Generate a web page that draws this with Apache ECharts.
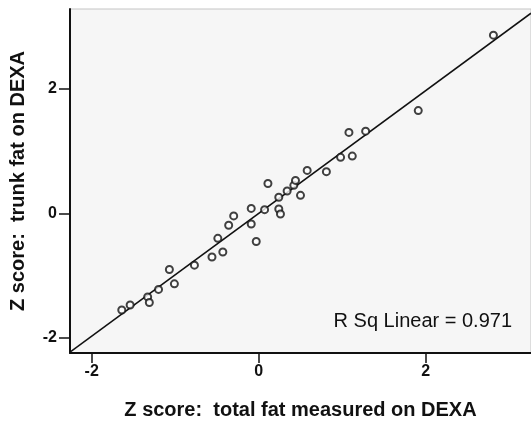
<!DOCTYPE html>
<html>
<head>
<meta charset="utf-8">
<script src="https://cdn.jsdelivr.net/npm/echarts@6/dist/echarts.min.js"></script>
<style>
  html, body { margin: 0; padding: 0; background: #fff; }
  #chart { width: 531px; height: 425px; }
</style>
</head>
<body>
<div id="chart"></div>
<script>
// Z score of total fat (x) against Z score of trunk fat (y), both measured on DEXA
const totalFatZ = [
  -1.64, -1.54, -1.33, -1.31, -1.20, -1.07, -1.01, -0.77, -0.56, -0.43, -0.49,
  -0.36, -0.30, -0.09, -0.09, -0.03, 0.07, 0.11, 0.24, 0.24, 0.26, 0.34,
  0.42, 0.44, 0.50, 0.58, 0.81, 0.98, 1.12, 1.08, 1.28, 1.91, 2.81
];
const trunkFatZ = [
  -1.55, -1.47, -1.34, -1.43, -1.22, -0.90, -1.13, -0.83, -0.70, -0.62, -0.40,
  -0.19, -0.04, 0.08, -0.17, -0.45, 0.06, 0.48, 0.26, 0.07, -0.01, 0.36,
  0.45, 0.53, 0.29, 0.69, 0.67, 0.90, 0.92, 1.30, 1.32, 1.65, 2.86
];
const xTicks = [-2, 0, 2];
const yTicks = [-2, 0, 2];
const xRange = [-2.26, 3.26];
const yRange = [-2.24, 3.28];
const rSqLinear = 0.971;

// For standardised variables the least-squares slope equals r and the intercept is 0
const slope = Math.sqrt(rSqLinear);
const fitLine = xRange.map(x => [x, slope * x]);
const points = totalFatZ.map((x, i) => [x, trunkFatZ[i]]);

const chart = echarts.init(document.getElementById('chart'), null, { renderer: 'canvas' });
const font = '"Liberation Sans", Arial, sans-serif';

chart.setOption({
  animation: false,
  backgroundColor: '#ffffff',
  grid: {
    left: 70, top: 9, right: -2, bottom: 71,
    show: true,
    backgroundColor: '#f6f6f6',
    borderColor: '#c4c4c4',
    borderWidth: 1
  },
  xAxis: {
    type: 'value',
    min: xRange[0], max: xRange[1],
    name: 'Z score:  total fat measured on DEXA',
    nameLocation: 'middle',
    nameGap: 47,
    nameTextStyle: { fontFamily: font, fontSize: 20, fontWeight: 'bold', color: '#111' },
    axisLine: { onZero: false, lineStyle: { color: '#111', width: 2 } },
    axisTick: { customValues: xTicks, length: 10, lineStyle: { color: '#111', width: 1.5 } },
    axisLabel: {
      customValues: xTicks, margin: 11,
      fontFamily: font, fontSize: 16, fontWeight: 'bold', color: '#111'
    },
    splitLine: { show: false }
  },
  yAxis: {
    type: 'value',
    min: yRange[0], max: yRange[1],
    name: 'Z score:  trunk fat on DEXA',
    nameLocation: 'middle',
    nameGap: 42,
    nameTextStyle: { fontFamily: font, fontSize: 20, fontWeight: 'bold', color: '#111' },
    axisLine: { onZero: false, lineStyle: { color: '#111', width: 2 } },
    axisTick: { customValues: yTicks, length: 11, lineStyle: { color: '#111', width: 1.5 } },
    axisLabel: {
      customValues: yTicks, margin: 13,
      fontFamily: font, fontSize: 16, fontWeight: 'bold', color: '#111'
    },
    splitLine: { show: false }
  },
  series: [
    {
      type: 'line',
      data: fitLine,
      symbol: 'none',
      clip: true,
      lineStyle: { color: '#111', width: 1.5 },
      z: 2
    },
    {
      type: 'scatter',
      data: points,
      symbol: 'emptyCircle',
      symbolSize: 7,
      itemStyle: { color: '#111', borderColor: '#111', borderWidth: 1.6 },
      z: 3
    }
  ],
  graphic: [
    {
      type: 'text',
      right: 19,
      top: 311,
      style: {
        text: 'R Sq Linear = ' + rSqLinear.toFixed(3),
        font: '20px ' + font,
        fill: '#111'
      }
    }
  ]
});
</script>
</body>
</html>
